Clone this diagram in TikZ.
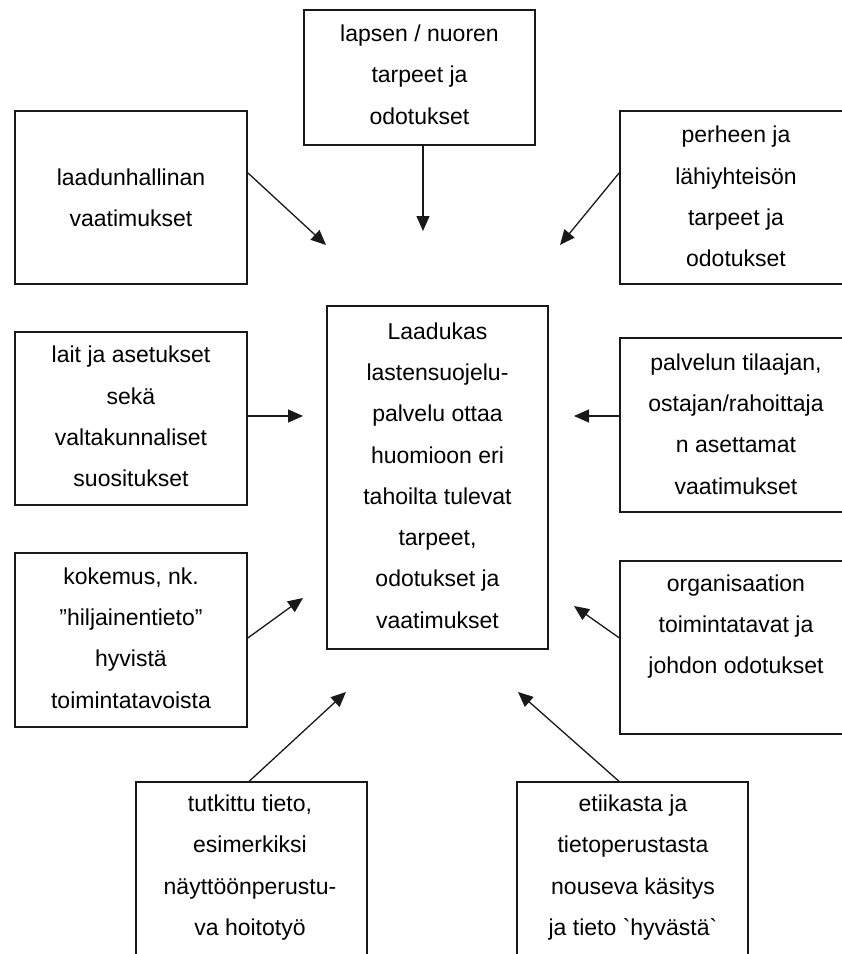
\documentclass[tikz,border=0pt]{standalone}
\usepackage{fontspec}
\setmainfont{Liberation Sans}[Ligatures=TeXOff]
\usetikzlibrary{arrows.meta,calc}
\tikzset{
  boxnode/.style={draw=black!90, line width=1.4pt, rectangle, inner sep=0pt, fill=none},
  txt/.style={align=center, inner sep=0pt, font=\fontsize{23}{41.3}\selectfont, text=black},
  conn/.style={line width=1.3pt, draw=black!90, -{Triangle[length=15pt,width=13pt]}}
}
\newcommand{\mybox}[5]{% name, x1, y1, x2, y2
  \node[boxnode, minimum width={(#4-#2)*1pt}, minimum height={(#5-#3)*1pt}] (#1) at ({(#2+#4)/2},{(#3+#5)/2}) {};}
\begin{document}
\begin{tikzpicture}[x=1pt,y=-1pt]
\useasboundingbox (0,0) rectangle (842,954);
\clip (0,0) rectangle (842,954);
\fill[white] (0,0) rectangle (842,954);
% boxes
\mybox{top}{304}{10}{535}{145}
\mybox{lq}{15}{111}{247}{284}
\mybox{pe}{620}{111}{852}{284}
\mybox{ctr}{327}{306}{548}{649}
\mybox{lait}{15}{332}{247}{505}
\mybox{pal}{620}{338}{852}{512}
\mybox{kok}{15}{553}{247}{727}
\mybox{org}{620}{561}{852}{734}
\mybox{tut}{136}{782}{367}{965}
\mybox{eti}{517}{782}{748}{965}
% texts
\node[txt] (ttop) at (419.5,74.5) {lapsen / nuoren\\tarpeet ja\\odotukset};
\node[txt] (tlq) at (131,197.5) {laadunhallinan\\vaatimukset};
\node[txt] (tpe) at (736,196.5) {perheen ja\\lähiyhteisön\\tarpeet ja\\odotukset};
\node[txt] (tctr) at (437.5,475.5) {Laadukas\\lastensuojelu-\\palvelu ottaa\\huomioon eri\\tahoilta tulevat\\tarpeet,\\odotukset ja\\vaatimukset};
\node[txt] (tlait) at (131,416.5) {lait ja asetukset\\sekä\\valtakunnaliset\\suositukset};
\node[txt] (tpal) at (736,424) {palvelun tilaajan,\\ostajan/rahoittaja\\n asettamat\\vaatimukset};
\node[txt] (tkok) at (131,638) {kokemus, nk.\\”hiljainentieto”\\hyvistä\\toimintatavoista};
\node[txt] (torg) at (736,626.5) {organisaation\\toimintatavat ja\\johdon odotukset};
\node[txt] (ttut) at (250,867.5) {tutkittu tieto,\\esimerkiksi\\näyttöönperustu-\\va hoitotyö};
\node[txt] (teti) at (633,867.5) {etiikasta ja\\tietoperustasta\\nouseva käsitys\\ja tieto `hyvästä`};
% free arrow ends
\coordinate (e1) at (326,245);
\coordinate (e2) at (423,231);
\coordinate (e3) at (560,245);
\coordinate (e4) at (303,416);
\coordinate (e5) at (574,416);
\coordinate (e6) at (303,598);
\coordinate (e7) at (574,606);
\coordinate (e8) at (346,692);
\coordinate (e9) at (518,692);
% connectors
\draw[conn] ($(lq.north east)!0.358!(lq.south east)$) -- (e1);
\draw[conn] (top.south -| e2) -- (e2);
\draw[conn] ($(pe.north west)!0.358!(pe.south west)$) -- (e3);
\draw[conn] (lait.east |- e4) -- (e4);
\draw[conn] (pal.west |- e5) -- (e5);
\draw[conn] ($(kok.north east)!0.489!(kok.south east)$) -- (e6);
\draw[conn] ($(org.north west)!0.445!(org.south west)$) -- (e7);
\draw[conn] ($(tut.north west)!0.49!(tut.north east)$) -- (e8);
\draw[conn] ($(eti.north west)!0.442!(eti.north east)$) -- (e9);
\end{tikzpicture}
\end{document}
